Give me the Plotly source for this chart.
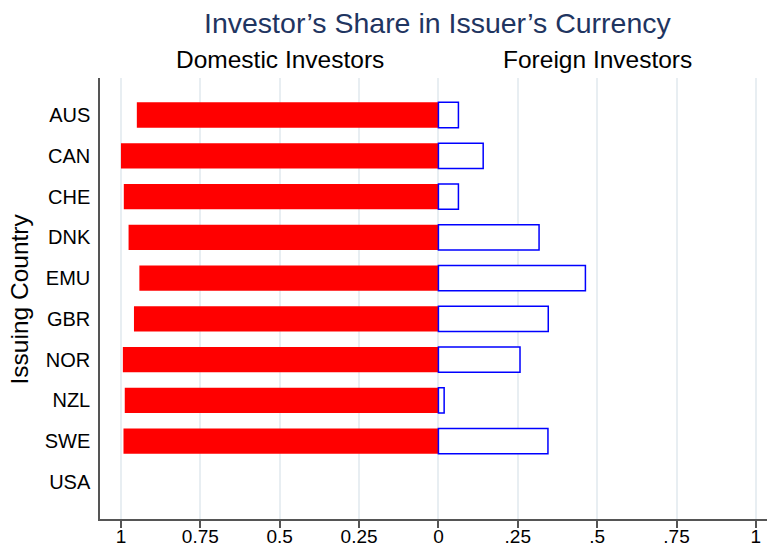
import plotly.graph_objects as go

countries = ["AUS", "CAN", "CHE", "DNK", "EMU", "GBR", "NOR", "NZL", "SWE", "USA"]
domestic = [0.950, 1.000, 0.991, 0.976, 0.942, 0.959, 0.994, 0.988, 0.992, None]
foreign = [0.063, 0.141, 0.063, 0.317, 0.463, 0.346, 0.257, 0.018, 0.345, None]

tick_vals = [-1, -0.75, -0.5, -0.25, 0, 0.25, 0.5, 0.75, 1]
tick_text = ["1", "0.75", "0.5", "0.25", "0", ".25", ".5", ".75", "1"]

FONT = "Liberation Sans, Arial, Helvetica, sans-serif"

fig = go.Figure()
fig.add_trace(go.Bar(
    y=countries,
    x=[-v if v is not None else None for v in domestic],
    orientation="h",
    width=0.62,
    marker=dict(color="#ff0000", line=dict(width=0)),
    name="Domestic Investors",
))
fig.add_trace(go.Bar(
    y=countries,
    x=foreign,
    orientation="h",
    width=0.62,
    marker=dict(color="#ffffff", line=dict(color="#0000ff", width=1.5)),
    name="Foreign Investors",
))

fig.update_layout(
    width=767,
    height=548,
    margin=dict(l=100, r=0, t=78, b=29, autoexpand=False),
    paper_bgcolor="white",
    plot_bgcolor="white",
    barmode="overlay",
    showlegend=False,
    font=dict(family=FONT, size=20, color="black"),
    xaxis=dict(
        range=[-1.066, 1.035],
        tickvals=tick_vals,
        ticktext=tick_text,
        showgrid=True,
        gridcolor="#e8eef2",
        gridwidth=1.5,
        zeroline=False,
        showline=True,
        linecolor="#555555",
        linewidth=1.5,
        ticks="outside",
        ticklen=7,
        tickcolor="#555555",
        tickwidth=1.5,
        ticklabelstandoff=-8,
        tickfont=dict(size=19, family=FONT, color="black"),
        automargin=False,
        fixedrange=True,
    ),
    yaxis=dict(
        categoryorder="array",
        categoryarray=countries,
        range=[9.907, -0.907],
        showgrid=False,
        zeroline=False,
        showline=True,
        linecolor="#555555",
        linewidth=1.5,
        ticks="",
        ticklabelstandoff=4,
        tickfont=dict(size=20, family=FONT, color="black"),
        automargin=False,
        fixedrange=True,
    ),
    annotations=[
        dict(text="Investor’s Share in Issuer’s Currency", xref="x", yref="paper",
             x=0, y=1.125, xanchor="center", yanchor="middle", showarrow=False,
             font=dict(size=28.5, family=FONT, color="#1f3561")),
        dict(text="Domestic Investors", xref="x", yref="paper",
             x=-0.5, y=1.041, xanchor="center", yanchor="middle", showarrow=False,
             font=dict(size=24.5, family=FONT, color="black")),
        dict(text="Foreign Investors", xref="x", yref="paper",
             x=0.5, y=1.041, xanchor="center", yanchor="middle", showarrow=False,
             font=dict(size=24.5, family=FONT, color="black")),
        dict(text="Issuing Country", xref="paper", yref="paper",
             x=-0.12, y=0.5, xanchor="center", yanchor="middle", showarrow=False,
             textangle=-90,
             font=dict(size=24.5, family=FONT, color="black")),
    ],
)

fig.write_html(
    "out.html",
    config={"displayModeBar": False},
    post_script="document.body.style.margin='0';document.body.style.padding='0';",
)
